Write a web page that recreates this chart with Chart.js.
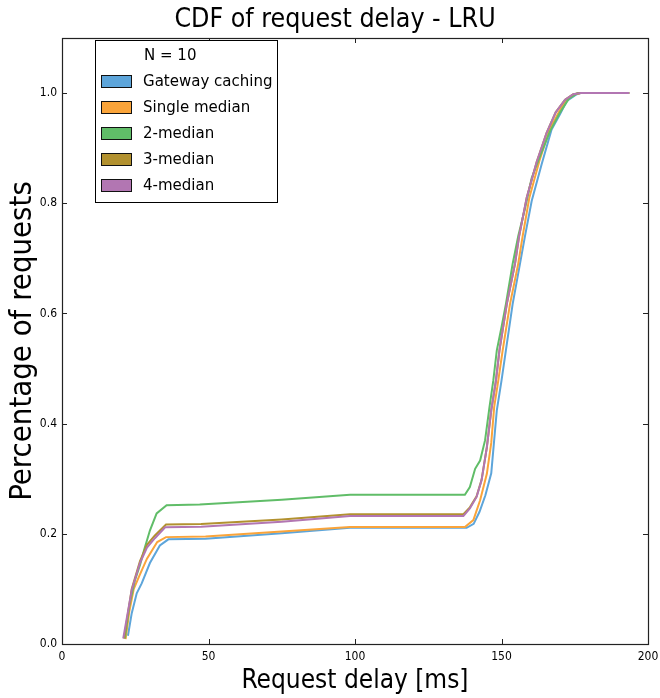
<!DOCTYPE html>
<html>
<head>
<meta charset="utf-8">
<script src="https://cdn.jsdelivr.net/npm/chart.js@4/dist/chart.umd.min.js"></script>
<style>
  html, body { margin: 0; padding: 0; background: #fff; }
  #wrap { width: 660px; height: 698px; }
</style>
</head>
<body>
<div id="wrap"><canvas id="chart" width="660" height="698"></canvas></div>
<script>
// Series labels and colours (legend order)
const seriesLabels = ["Gateway caching", "Single median", "2-median", "3-median", "4-median"];
const seriesColors = ["#5DA5DA", "#FAA43A", "#60BD68", "#B2912F", "#B276B2"];
const legendTitle = "N = 10";
const chartTitle = "CDF of request delay - LRU";

// Axis ticks
const xTicks = [0, 50, 100, 150, 200];
const yTicks = [0.0, 0.2, 0.4, 0.6, 0.8, 1.0];

// Request delay (ms) vs CDF
const gatewayX = [22.5, 23.8, 25.5, 27.2, 30, 33.4, 36.3, 49, 75, 98.3, 138.1, 140.5, 142.5, 144.5, 146.5, 147.5, 148.4, 150, 151.5, 153.8, 156.3, 158, 160.3, 163.7, 167.1, 170, 172.3, 175.7, 177, 193.6];
const gatewayY = [0.015, 0.056, 0.092, 0.11, 0.147, 0.179, 0.19, 0.191, 0.201, 0.211, 0.211, 0.218, 0.24, 0.27, 0.31, 0.37, 0.424, 0.478, 0.533, 0.617, 0.69, 0.74, 0.804, 0.871, 0.934, 0.962, 0.986, 0.998, 1.0, 1.0];

const singleX = [21.7, 23, 24.5, 26.5, 29, 32.5, 35.5, 49, 75, 98.3, 137.5, 140.4, 142.7, 145, 146.5, 147.5, 148.9, 150.4, 152.9, 155.7, 157.2, 159.5, 163, 166.5, 169.5, 172, 175, 177, 193.6];
const singleY = [0.009, 0.06, 0.1, 0.125, 0.155, 0.185, 0.194, 0.195, 0.204, 0.2125, 0.2125, 0.225, 0.261, 0.309, 0.365, 0.43, 0.478, 0.533, 0.617, 0.69, 0.74, 0.81, 0.878, 0.935, 0.965, 0.988, 0.998, 1.0, 1.0];

const twoMedX = [21.5, 23, 24.9, 26.6, 28, 30, 32.3, 35.7, 47, 75, 98.3, 137.5, 139.2, 141, 142.7, 144.4, 145.9, 147.2, 148.4, 150, 151.5, 153.8, 155.7, 158, 160.3, 163.5, 166.5, 170, 173, 176, 193.6];
const twoMedY = [0.01, 0.07, 0.116, 0.143, 0.17, 0.206, 0.237, 0.252, 0.253, 0.262, 0.271, 0.271, 0.285, 0.318, 0.333, 0.37, 0.43, 0.478, 0.533, 0.575, 0.617, 0.69, 0.74, 0.79, 0.846, 0.89, 0.93, 0.965, 0.99, 1.0, 1.0];

const threeMedX = [21.2, 23.8, 26.6, 29, 31.7, 35.5, 47.5, 75, 98.3, 137, 139.2, 141.5, 143.2, 145, 146.5, 148.1, 149.3, 151.8, 154.6, 156, 158.6, 162, 165.4, 168.5, 171.7, 174.5, 177, 193.6];
const threeMedY = [0.01, 0.1, 0.15, 0.18, 0.197, 0.217, 0.218, 0.226, 0.2355, 0.2355, 0.248, 0.268, 0.298, 0.357, 0.424, 0.478, 0.533, 0.617, 0.69, 0.74, 0.81, 0.875, 0.928, 0.965, 0.988, 0.998, 1.0, 1.0];

const fourMedX = [20.9, 23.8, 26.6, 29, 31.7, 35.2, 47.5, 75, 98.3, 137, 139.2, 141.5, 143.2, 145, 146.5, 148.1, 149.3, 151.8, 154.6, 156, 158.6, 162, 165.4, 168.5, 171.7, 174.5, 177, 193.6];
const fourMedY = [0.01, 0.098, 0.147, 0.175, 0.192, 0.212, 0.213, 0.222, 0.2325, 0.2325, 0.246, 0.267, 0.297, 0.357, 0.424, 0.478, 0.533, 0.617, 0.69, 0.74, 0.81, 0.875, 0.928, 0.965, 0.988, 0.998, 1.0, 1.0];

const seriesX = [gatewayX, singleX, twoMedX, threeMedX, fourMedX];
const seriesY = [gatewayY, singleY, twoMedY, threeMedY, fourMedY];

const FONT = "'DejaVu Sans Condensed', 'DejaVu Sans', sans-serif";

function toPoints(xs, ys) {
  return xs.map((x, i) => ({ x: x, y: ys[i] }));
}

const datasets = seriesLabels.map((label, i) => ({
  label: label,
  data: toPoints(seriesX[i], seriesY[i]),
  borderColor: seriesColors[i],
  backgroundColor: seriesColors[i],
  borderWidth: 2,
  pointRadius: 0,
  tension: 0,
  fill: false,
  // later series drawn on top, like matplotlib
  order: seriesLabels.length - i,
}));

// Frame and inward ticks on all four sides (matplotlib classic look)
const framePlugin = {
  id: "frame",
  afterDatasetsDraw(chart) {
    const { ctx, chartArea: a, scales } = chart;
    ctx.save();
    ctx.strokeStyle = "#222";
    ctx.lineWidth = 1;
    const len = 5;
    ctx.beginPath();
    xTicks.forEach((v) => {
      const px = Math.round(scales.x.getPixelForValue(v)) + 0.5;
      ctx.moveTo(px, a.bottom); ctx.lineTo(px, a.bottom - len);
      ctx.moveTo(px, a.top); ctx.lineTo(px, a.top + len);
    });
    yTicks.forEach((v) => {
      const py = Math.round(scales.y.getPixelForValue(v)) + 0.5;
      ctx.moveTo(a.left, py); ctx.lineTo(a.left + len, py);
      ctx.moveTo(a.right, py); ctx.lineTo(a.right - len, py);
    });
    ctx.stroke();
    ctx.lineWidth = 1.2;
    ctx.strokeRect(Math.round(a.left) + 0.5, Math.round(a.top) + 0.5,
      Math.round(a.right - a.left), Math.round(a.bottom - a.top));

    // title, sitting a little left of the plot centre as in the original
    ctx.font = "26.5px " + FONT;
    ctx.fillStyle = "#000";
    ctx.textAlign = "center";
    ctx.textBaseline = "middle";
    ctx.fillText(chartTitle, 335, 20);
    ctx.restore();
  },
};

// Legend box in the upper left of the plot
const boxLegendPlugin = {
  id: "boxLegend",
  afterDatasetsDraw(chart) {
    const { ctx, chartArea: a } = chart;
    const left = a.left + 33, top = a.top + 2;
    const w = 182, h = 162;
    ctx.save();
    ctx.fillStyle = "#fff";
    ctx.fillRect(left, top, w, h);
    ctx.strokeStyle = "#000";
    ctx.lineWidth = 1;
    ctx.strokeRect(left + 0.5, top + 0.5, w, h);
    ctx.font = "16.7px " + FONT;
    ctx.textBaseline = "middle";
    ctx.fillStyle = "#000";
    ctx.fillText(legendTitle, left + 49, top + 16);
    seriesLabels.forEach((label, i) => {
      const cy = top + 41 + i * 26;
      ctx.fillStyle = seriesColors[i];
      ctx.fillRect(left + 6, cy - 6, 30, 12);
      ctx.strokeStyle = "#111";
      ctx.strokeRect(left + 6.5, cy - 5.5, 30, 12);
      ctx.fillStyle = "#000";
      ctx.fillText(label, left + 48, cy + 1);
    });
    ctx.restore();
  },
};

new Chart(document.getElementById("chart"), {
  type: "line",
  data: { datasets: datasets },
  plugins: [framePlugin, boxLegendPlugin],
  options: {
    responsive: false,
    animation: false,
    devicePixelRatio: 1,
    layout: { padding: { top: 38, right: 12, bottom: 0, left: 0 } },
    plugins: {
      legend: { display: false },
      tooltip: { enabled: false },
      title: { display: false },
    },
    scales: {
      x: {
        type: "linear",
        min: 0,
        max: 200,
        afterBuildTicks: (s) => { s.ticks = xTicks.map((v) => ({ value: v })); },
        afterFit: (s) => { s.height = 54; s.paddingLeft = 0; s.paddingRight = 0; },
        ticks: { color: "#000", padding: 6, font: { family: FONT, size: 12 } },
        grid: { display: false, drawTicks: false },
        border: { display: false },
        title: {
          display: true,
          text: "Request delay [ms]",
          color: "#000",
          font: { family: FONT, size: 26 },
          padding: { top: 0, bottom: 1 },
        },
      },
      y: {
        type: "linear",
        min: 0,
        max: 1.1,
        afterBuildTicks: (s) => { s.ticks = yTicks.map((v) => ({ value: v })); },
        afterFit: (s) => { s.width = 62; s.paddingTop = 0; s.paddingBottom = 0; },
        ticks: {
          color: "#000",
          padding: 5,
          font: { family: FONT, size: 12 },
          callback: (v) => Number(v).toFixed(1),
        },
        grid: { display: false, drawTicks: false },
        border: { display: false },
        title: {
          display: true,
          text: "Percentage of requests",
          color: "#000",
          font: { family: FONT, size: 30.8 },
          padding: { top: 5, bottom: 0 },
        },
      },
    },
  },
});
</script>
</body>
</html>
